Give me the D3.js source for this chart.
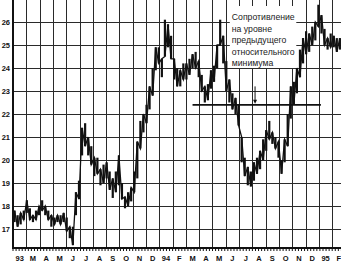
<!DOCTYPE html>
<head>
  <meta charset="utf-8">
  <script src="https://d3js.org/d3.v7.min.js"></script>
  <style>
    body {
      margin: 0;
      background: #fff;
    }

    svg {
      display: block;
    }

    .grid line {
      stroke: #2a2a2a;
      stroke-width: 1.1px;
      shape-rendering: crispEdges;
    }

    .lbl {
      font: bold 7.5px "Liberation Sans", Arial, sans-serif;
      fill: #111;
    }

    .note {
      font: 8.7px "Liberation Sans", Arial, sans-serif;
      fill: #222;
    }
  </style>
</head>

<body>
  <svg id="chart" width="341" height="266"></svg>

  <script>
    // month labels along the bottom, one per monthly column
    var monthLabels = ["93", "M", "A", "M", "J", "J", "A", "S", "O", "N", "D",
      "94", "F", "M", "A", "M", "J", "J", "A", "S", "O", "N", "D", "95", "F"];

    var priceTicks = [17, 18, 19, 20, 21, 22, 23, 24, 25, 26];

    // weekly trading ranges
    var weeklyLow = [17.3, 17.1, 17.2, 17.4, 17.7, 17.4, 17.3, 17.4, 17.6, 17.8,
      17.6, 17.4, 17.1, 17.2, 17.3, 17.2, 17.3, 16.9, 16.6, 16.3,
      17.6, 18.3, 20.2, 20.6, 20.2, 19.8, 19.3, 19.4, 18.9, 19.0,
      19.2, 18.7, 18.35, 18.6, 18.9, 18.3, 17.9, 18.0, 18.2, 18.6,
      19.2, 20.5, 21.2, 21.6, 22.2, 22.8, 23.9, 24.2, 23.6, 24.5,
      24.9, 24.4, 23.5, 23.2, 23.2, 23.5, 23.5, 23.7, 24.0, 24.0,
      23.6, 23.0, 22.5, 22.6, 23.1, 23.4, 24.0, 25.0, 24.2, 23.0,
      22.5, 22.2, 22.0, 21.5, 19.9, 19.3, 18.9, 18.85, 19.1, 19.4,
      19.6, 20.0, 20.4, 20.9, 20.7, 20.5, 20.1, 19.4, 19.9, 20.6,
      21.8, 22.4, 22.9, 23.6, 24.2, 24.6, 24.7, 25.0, 25.2, 25.8,
      25.5, 25.0, 24.8, 24.9, 24.9, 24.7, 24.8];

    var weeklyHigh = [17.8, 17.6, 17.7, 17.8, 18.25, 17.9, 17.6, 17.8, 18.0, 18.25,
      18.0, 17.8, 17.6, 17.5, 17.6, 17.6, 17.7, 17.5, 17.1, 17.1,
      18.6, 19.1, 21.4, 21.6, 21.0, 20.6, 20.1, 20.1, 19.6, 19.8,
      19.9, 19.5, 19.2, 19.5, 20.2, 19.0, 18.4, 18.6, 18.8, 19.5,
      20.8, 21.7, 22.0, 22.4, 23.2, 24.0, 24.9, 24.9, 24.4, 26.1,
      25.9, 25.4, 24.4, 24.0, 23.9, 24.2, 24.2, 24.4, 24.6, 24.7,
      24.3, 23.7, 23.2, 23.3, 23.9, 24.1, 25.0, 26.1, 25.4, 24.3,
      23.5, 22.9, 22.7, 22.4, 21.0, 20.1, 19.7, 19.5, 19.9, 20.1,
      20.4, 20.9, 21.3, 21.7, 21.2, 21.0, 20.8, 20.0, 20.9, 22.0,
      23.2, 23.4, 24.0, 24.8, 25.3, 25.6, 25.5, 25.8, 26.0, 26.75,
      26.3, 25.7, 25.3, 25.5, 25.4, 25.3, 25.3];

    // resistance at the previous relative low (in months / price)
    var resistanceLevel = 22.4;
    var resistanceSpan = [13.5, 23.15];
    var arrowAt = 18.2;
    var noteLines = ["Сопротивление", "на уровне", "предыдущего", "относительного", "минимума"];

    var weeksPerMonth = 52 / 12;

    var svg = d3.select("#chart"),
      left = 13, bottom = 248, right = 341;

    var x = d3.scaleLinear()
      .domain([0, 25])
      .range([left, left + 25 * 13.3]);

    var y = d3.scaleLinear()
      .domain([17, 26])
      .range([229, 22]);

    var grid = svg.append("g").attr("class", "grid");

    grid.selectAll(".h")
      .data(priceTicks)
      .join("line")
      .attr("x1", left).attr("x2", right)
      .attr("y1", d => Math.round(y(d)) + 0.5)
      .attr("y2", d => Math.round(y(d)) + 0.5);

    grid.selectAll(".v")
      .data(d3.range(1, monthLabels.length))
      .join("line")
      .attr("x1", d => Math.round(x(d)) + 0.5)
      .attr("x2", d => Math.round(x(d)) + 0.5)
      .attr("y1", 0).attr("y2", bottom);

    // price bars
    var weeks = weeklyLow.map((lo, i) => ({ w: i, lo: lo, hi: weeklyHigh[i] }));
    var wx = d => x((d.w + 0.5) / weeksPerMonth);

    svg.append("g")
      .selectAll("rect")
      .data(weeks)
      .join("rect")
      .attr("x", d => wx(d) - 1.1)
      .attr("width", 2.2)
      .attr("y", d => y(d.hi))
      .attr("height", d => y(d.lo) - y(d.hi))
      .attr("fill", "#111");

    // zigzag between highs and lows gives the daily-bar texture
    svg.append("path")
      .datum(weeks)
      .attr("fill", "none")
      .attr("stroke", "#111")
      .attr("stroke-width", 1.3)
      .attr("d", d3.line()
        .x(d => wx(d))
        .y(d => d.w % 2 ? y(d.lo) : y(d.hi)));

    // annotation box with text
    var note = svg.append("g");
    note.append("rect")
      .attr("x", x(16.3)).attr("y", 6)
      .attr("width", x(21.3) - x(16.3)).attr("height", 62)
      .attr("fill", "#fff");

    note.selectAll("text")
      .data(noteLines)
      .join("text")
      .attr("class", "note")
      .attr("x", x(16.45))
      .attr("y", (d, i) => 20 + i * 11.6)
      .text(d => d);

    // resistance line + arrow
    svg.append("line")
      .attr("x1", x(resistanceSpan[0])).attr("x2", x(resistanceSpan[1]))
      .attr("y1", y(resistanceLevel)).attr("y2", y(resistanceLevel))
      .attr("stroke", "#111").attr("stroke-width", 1.8);

    svg.append("line")
      .attr("x1", x(arrowAt)).attr("x2", x(arrowAt))
      .attr("y1", y(23.2)).attr("y2", y(resistanceLevel) - 3)
      .attr("stroke", "#111").attr("stroke-width", 1);

    svg.append("path")
      .attr("d", d3.line()([
        [x(arrowAt) - 2, y(resistanceLevel) - 5],
        [x(arrowAt), y(resistanceLevel) - 1],
        [x(arrowAt) + 2, y(resistanceLevel) - 5]
      ]))
      .attr("fill", "#111");

    // axes
    svg.append("line")
      .attr("x1", left).attr("x2", left)
      .attr("y1", 0).attr("y2", bottom + 1)
      .attr("stroke", "#111").attr("stroke-width", 2);

    svg.append("line")
      .attr("x1", left).attr("x2", right)
      .attr("y1", bottom).attr("y2", bottom)
      .attr("stroke", "#111").attr("stroke-width", 2);

    svg.append("g")
      .selectAll("line")
      .data(d3.range(0, 25 * weeksPerMonth + 1))
      .join("line")
      .attr("x1", d => x(d / weeksPerMonth))
      .attr("x2", d => x(d / weeksPerMonth))
      .attr("y1", bottom).attr("y2", bottom + 3)
      .attr("stroke", "#111").attr("stroke-width", 1);

    svg.append("g")
      .selectAll("text")
      .data(priceTicks)
      .join("text")
      .attr("class", "lbl")
      .attr("x", 10)
      .attr("y", d => y(d))
      .attr("dy", "0.35em")
      .attr("text-anchor", "end")
      .text(d => d);

    svg.append("g")
      .selectAll("text")
      .data(monthLabels)
      .join("text")
      .attr("class", "lbl")
      .attr("x", (d, i) => x(i + 0.5))
      .attr("y", 261)
      .attr("text-anchor", "middle")
      .text(d => d);
  </script>
</body>
